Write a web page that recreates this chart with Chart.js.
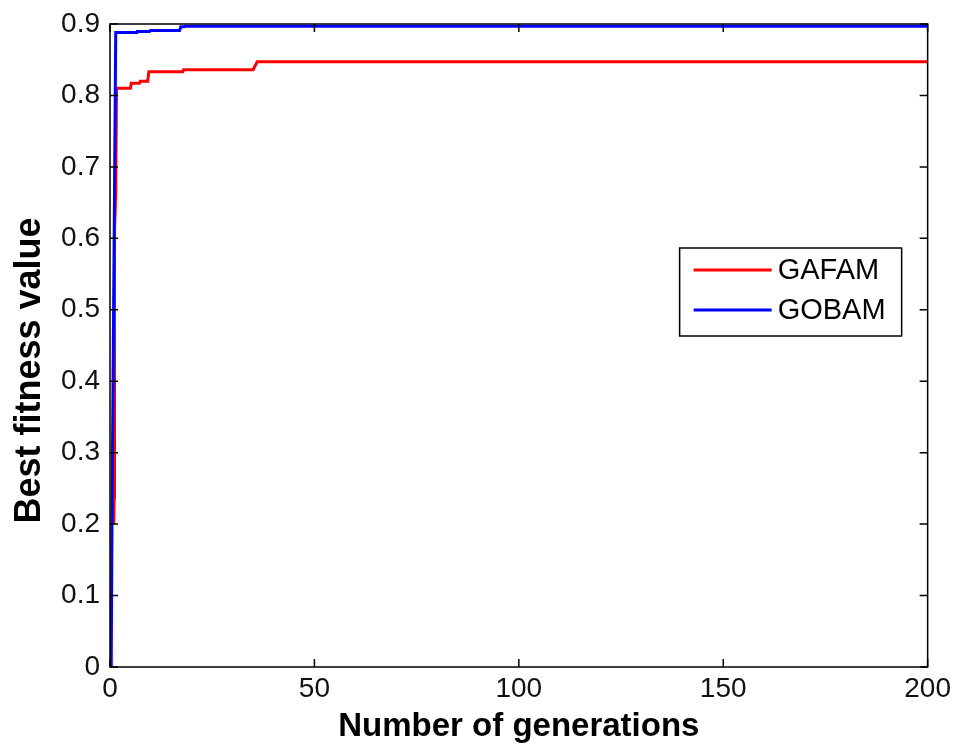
<!DOCTYPE html>
<html lang="en">
<head>
    <meta charset="UTF-8">
    <title>Best fitness value</title>
    <script src="https://cdn.jsdelivr.net/npm/chart.js"></script>
    <style>
        html, body { margin: 0; padding: 0; background: #fff; }
        #wrap { width: 959px; height: 751px; }
    </style>
</head>
<body>
    <div id="wrap"><canvas id="fitnessChart" width="959" height="751"></canvas></div>

    <script>
        // GAFAM curve (breakpoints)
        const gafamGen = [0.9, 1.0, 1.1, 1.4, 1.6, 5.0, 5.2, 7.2, 7.4, 9.2, 9.5, 17.8, 18.0, 35.0, 36.0, 200];
        const gafamFit = [0.20, 0.237, 0.61, 0.666, 0.810, 0.810, 0.817, 0.817, 0.820, 0.820, 0.833, 0.833, 0.836, 0.836, 0.847, 0.847];

        // GOBAM curve
        const gobamGen = [0.3, 0.5, 1.4, 6.6, 6.7, 9.7, 9.9, 17.0, 17.3, 18.2, 18.4, 200];
        const gobamFit = [0, 0.22, 0.888, 0.888, 0.8895, 0.8895, 0.891, 0.891, 0.896, 0.896, 0.897, 0.897];

        const xTitle = 'Number of generations';
        const yTitle = 'Best fitness value     '; // trailing spaces push it down a bit, like the original

        const pts = (xs, ys) => xs.map((v, i) => ({ x: v, y: ys[i] }));
        const font = "'Liberation Sans', Arial, sans-serif";

        // matlab style box, inward ticks and legend
        const matlabBox = {
            id: 'matlabBox',
            afterDraw(chart) {
                const ctx = chart.ctx;
                const a = chart.chartArea;
                const sx = chart.scales.x, sy = chart.scales.y;
                const tl = 8;
                ctx.save();
                ctx.strokeStyle = '#000';
                ctx.lineWidth = 1.5;
                ctx.strokeRect(a.left, a.top, a.right - a.left, a.bottom - a.top);
                ctx.beginPath();
                sx.ticks.forEach(t => {
                    const px = sx.getPixelForValue(t.value);
                    ctx.moveTo(px, a.bottom); ctx.lineTo(px, a.bottom - tl);
                    ctx.moveTo(px, a.top); ctx.lineTo(px, a.top + tl);
                });
                sy.ticks.forEach(t => {
                    const py = sy.getPixelForValue(t.value);
                    ctx.moveTo(a.left, py); ctx.lineTo(a.left + tl, py);
                    ctx.moveTo(a.right, py); ctx.lineTo(a.right - tl, py);
                });
                ctx.stroke();

                // legend
                const bw = 222, bh = 88;
                const bx = a.right - 26 - bw, by = a.top + 224;
                ctx.fillStyle = '#fff';
                ctx.fillRect(bx, by, bw, bh);
                ctx.lineWidth = 1.5;
                ctx.strokeRect(bx, by, bw, bh);
                ctx.font = '29px ' + font;
                ctx.textBaseline = 'middle';
                chart.data.datasets.forEach((ds, i) => {
                    const ly = by + 22 + i * 40;
                    ctx.strokeStyle = ds.borderColor;
                    ctx.lineWidth = 3;
                    ctx.beginPath();
                    ctx.moveTo(bx + 14, ly); ctx.lineTo(bx + 92, ly);
                    ctx.stroke();
                    ctx.fillStyle = '#000';
                    ctx.fillText(ds.label, bx + 98, ly + 1);
                });
                ctx.restore();
            }
        };

        new Chart(document.getElementById('fitnessChart'), {
            type: 'scatter',
            data: {
                datasets: [{
                    label: 'GAFAM',
                    data: pts(gafamGen, gafamFit),
                    borderColor: '#ff0000',
                    borderWidth: 3,
                    showLine: true,
                    pointRadius: 0,
                    order: 1
                }, {
                    label: 'GOBAM',
                    data: pts(gobamGen, gobamFit),
                    borderColor: '#0000ff',
                    borderWidth: 3,
                    showLine: true,
                    pointRadius: 0,
                    order: 0
                }]
            },
            options: {
                responsive: false,
                animation: false,
                layout: { padding: { left: 0, top: 8, right: 30, bottom: 0 } },
                plugins: {
                    legend: { display: false },
                    tooltip: { enabled: false }
                },
                scales: {
                    x: {
                        type: 'linear',
                        min: 0, max: 200,
                        grid: { display: false, drawTicks: false },
                        border: { display: false },
                        ticks: { stepSize: 50, padding: 8, color: '#111', font: { family: font, size: 28, lineHeight: 1 } },
                        title: { display: true, text: xTitle, color: '#000', padding: { top: 0, bottom: 4 },
                                 font: { family: font, size: 33, weight: 'bold' } },
                        afterFit: s => { s.height = 84; }
                    },
                    y: {
                        min: 0, max: 0.9,
                        grid: { display: false, drawTicks: false },
                        border: { display: false },
                        ticks: { stepSize: 0.1, padding: 10, color: '#111', font: { family: font, size: 28, lineHeight: 1 } },
                        title: { display: true, text: yTitle, color: '#000', padding: { top: 8, bottom: 0 },
                                 font: { family: font, size: 36, weight: 'bold' } },
                        afterFit: s => { s.width = 110; }
                    }
                }
            },
            plugins: [matlabBox]
        });
    </script>
</body>
</html>
